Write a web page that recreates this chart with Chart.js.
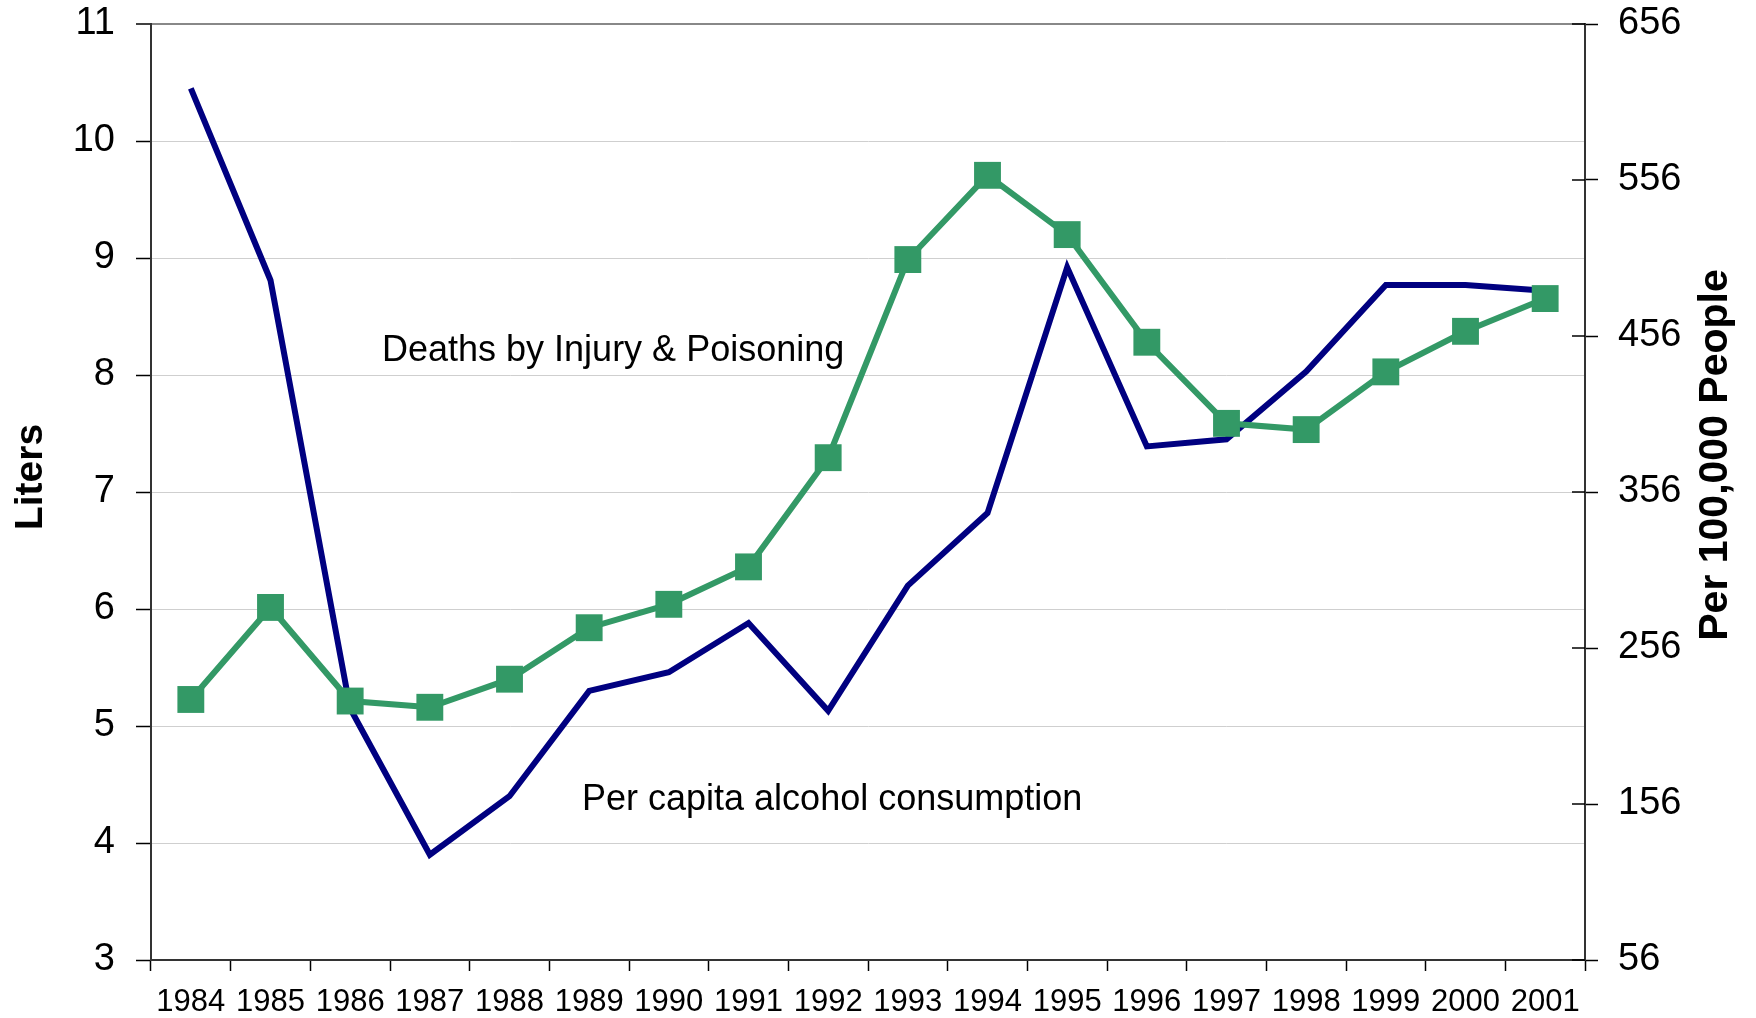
<!DOCTYPE html>
<html>
<head>
<meta charset="utf-8">
<script src="https://cdn.jsdelivr.net/npm/chart.js@4.4.1/dist/chart.umd.min.js"></script>
<style>
html, body { margin: 0; padding: 0; background: #fff; }
canvas { display: block; }
</style>
</head>
<body>
<canvas id="chart" width="1756" height="1018"></canvas>
<script>
const years = ['1984', '1985', '1986', '1987', '1988', '1989', '1990', '1991', '1992',
  '1993', '1994', '1995', '1996', '1997', '1998', '1999', '2000', '2001']

// liters per capita (left axis)
const alcohol = [10.45, 8.81, 5.15, 3.9, 4.4, 5.3, 5.46, 5.88, 5.13,
  6.2, 6.82, 8.92, 7.39, 7.45, 8.03, 8.77, 8.77, 8.72]

// deaths per 100,000 people (right axis)
const deaths = [223, 282, 222, 218, 236, 269, 284, 308, 378,
  505, 559, 521, 452, 400, 396, 433, 459, 480]

const literTicks = [3, 4, 5, 6, 7, 8, 9, 10, 11]
const peopleTicks = [56, 156, 256, 356, 456, 556, 656]

const FONT = '"Liberation Sans", Arial, sans-serif'
Chart.defaults.font.family = FONT
Chart.defaults.color = '#000'

// fixed axis box sizes, so the plot area lands where the original has it
function fixSize(prop, size) {
  return s => {
    s[prop] = size
    s.paddingTop = 0
    s.paddingBottom = 0
    s.paddingLeft = 0
    s.paddingRight = 0
  }
}

// text labels, right-axis title (reads bottom to top) and inner half of right ticks
const extras = {
  id: 'extras',
  afterDraw(chart) {
    const ctx = chart.ctx
    const r = chart.scales.yR
    ctx.save()
    ctx.strokeStyle = '#000'
    ctx.lineWidth = 1.5
    r.ticks.forEach(t => {
      const y = r.getPixelForValue(t.value)
      ctx.beginPath()
      ctx.moveTo(r.left - 13, y)
      ctx.lineTo(r.left, y)
      ctx.stroke()
    })

    ctx.fillStyle = '#000'
    ctx.font = '36px ' + FONT
    ctx.textAlign = 'left'
    ctx.textBaseline = 'middle'
    ctx.fillText('Deaths by Injury & Poisoning', 382, 351)
    ctx.fillText('Per capita alcohol consumption', 582, 800)

    ctx.font = 'bold 39px ' + FONT
    ctx.textAlign = 'center'
    ctx.save()
    ctx.translate(31, 477)
    ctx.rotate(-Math.PI / 2)
    ctx.fillText('Liters', 0, 0)
    ctx.restore()
    ctx.font = 'bold 41px ' + FONT
    ctx.save()
    ctx.translate(1716, 455)
    ctx.rotate(-Math.PI / 2)
    ctx.fillText('Per 100,000 People', 0, 0)
    ctx.restore()
    ctx.restore()
  }
}

const config = {
  type: 'line',
  data: {
    labels: years,
    datasets: [
      {
        label: 'Deaths by Injury & Poisoning',
        data: deaths,
        yAxisID: 'yR',
        borderColor: '#339966',
        backgroundColor: '#339966',
        borderWidth: 6,
        pointStyle: 'rect',
        pointRadius: 19,
        pointBorderWidth: 0,
        order: 0,
      },
      {
        label: 'Per capita alcohol consumption',
        data: alcohol,
        yAxisID: 'y',
        borderColor: '#000080',
        backgroundColor: '#000080',
        borderWidth: 6,
        borderJoinStyle: 'miter',
        pointRadius: 0,
        order: 1,
      },
    ],
  },
  options: {
    responsive: false,
    animation: false,
    devicePixelRatio: 1,
    layout: { padding: { top: 24, left: 0, right: 0, bottom: 0 } },
    plugins: { legend: { display: false }, tooltip: { enabled: false } },
    scales: {
      x: {
        offset: true,
        grid: { offset: true, drawOnChartArea: false, tickLength: 11, tickColor: '#000', tickWidth: 1.5 },
        border: { color: '#333', width: 2 },
        ticks: { font: { size: 31 }, padding: 13, maxRotation: 0, autoSkip: false },
        afterFit: fixSize('height', 58),
      },
      y: {
        position: 'left',
        min: 3,
        max: 11,
        afterBuildTicks(s) { s.ticks = literTicks.map(v => ({ value: v })) },
        grid: {
          color: c => (c.tick && c.tick.value === 11 ? '#888' : '#cfcfcf'),
          lineWidth: c => (c.tick && c.tick.value === 11 ? 2 : 1),
          tickColor: '#000',
          tickLength: 15,
          tickWidth: 1.5,
        },
        border: { color: '#333', width: 2 },
        ticks: { font: { size: 38 }, padding: 21 },
        afterFit: fixSize('width', 151),
      },
      yR: {
        position: 'right',
        min: 56,
        max: 656,
        afterBuildTicks(s) { s.ticks = peopleTicks.map(v => ({ value: v })) },
        grid: { drawOnChartArea: false, tickColor: '#000', tickLength: 13, tickWidth: 1.5 },
        border: { color: '#333', width: 2 },
        ticks: { font: { size: 38 }, padding: 20 },
        afterFit: fixSize('width', 171),
      },
    },
  },
  plugins: [extras],
}

const chart = new Chart(document.getElementById('chart'), config)
</script>
</body>
</html>
